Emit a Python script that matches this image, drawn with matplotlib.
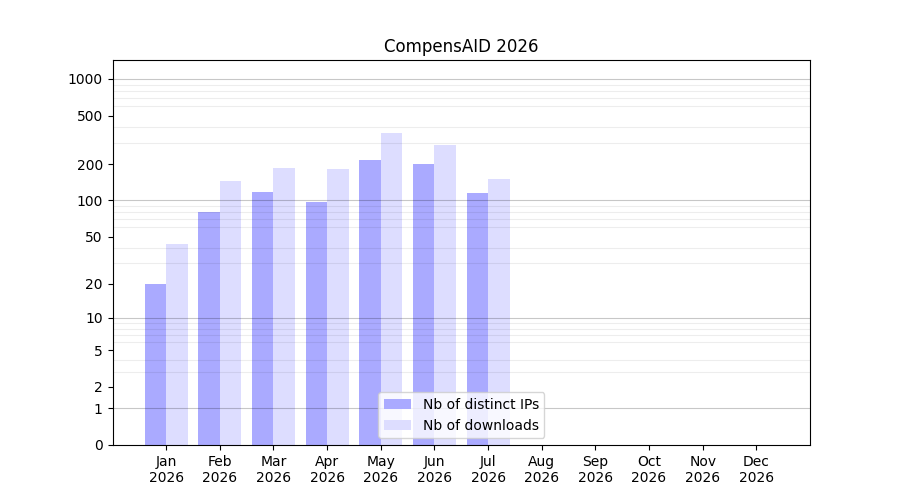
import numpy as np
import matplotlib; matplotlib.use("Agg"); import matplotlib.pyplot as plt
from matplotlib.ticker import FixedLocator

months=["Jan","Feb","Mar","Apr","May","Jun","Jul","Aug","Sep","Oct","Nov","Dec"]
year="2026"
ips=[20,80,117,97,215,200,115]
downloads=[43,145,185,181,358,286,150]
yticks=[0,1,2,5,10,20,50,100,200,500,1000]

fig,ax=plt.subplots(figsize=(9,5),dpi=100)
ax.set_yscale("function",functions=(lambda v: np.log10(1+np.clip(v,0,None)),lambda v: 10**v-1))
x=np.arange(len(ips))
ax.bar(x-0.2,ips,width=0.4,color="#aaaaff",label="Nb of distinct IPs")
ax.bar(x+0.2,downloads,width=0.4,color="#ddddff",label="Nb of downloads")

# light lines on every sub-decade value, darker on the decades
minor=[m*10**e for e in range(3) for m in range(2,10)]
ax.yaxis.set_minor_locator(FixedLocator(minor))
ax.tick_params(axis="y",which="minor",length=0)
ax.grid(which="minor",axis="y",color="k",alpha=0.07,lw=0.8)
for v in [1,10,100,1000]:
    ax.axhline(v,color="k",alpha=0.22,lw=0.8,zorder=1.5)
ax.set_yticks(yticks); ax.set_yticklabels([str(v) for v in yticks])
ax.set_ylim(0,1430)
ax.set_xticks(np.arange(12)); ax.set_xticklabels([f"{m}\n{year}" for m in months])
ax.set_xlim(-1,12)
ax.set_title("CompensAID 2026")
ax.legend(loc="lower center")
fig.savefig("out.png")
